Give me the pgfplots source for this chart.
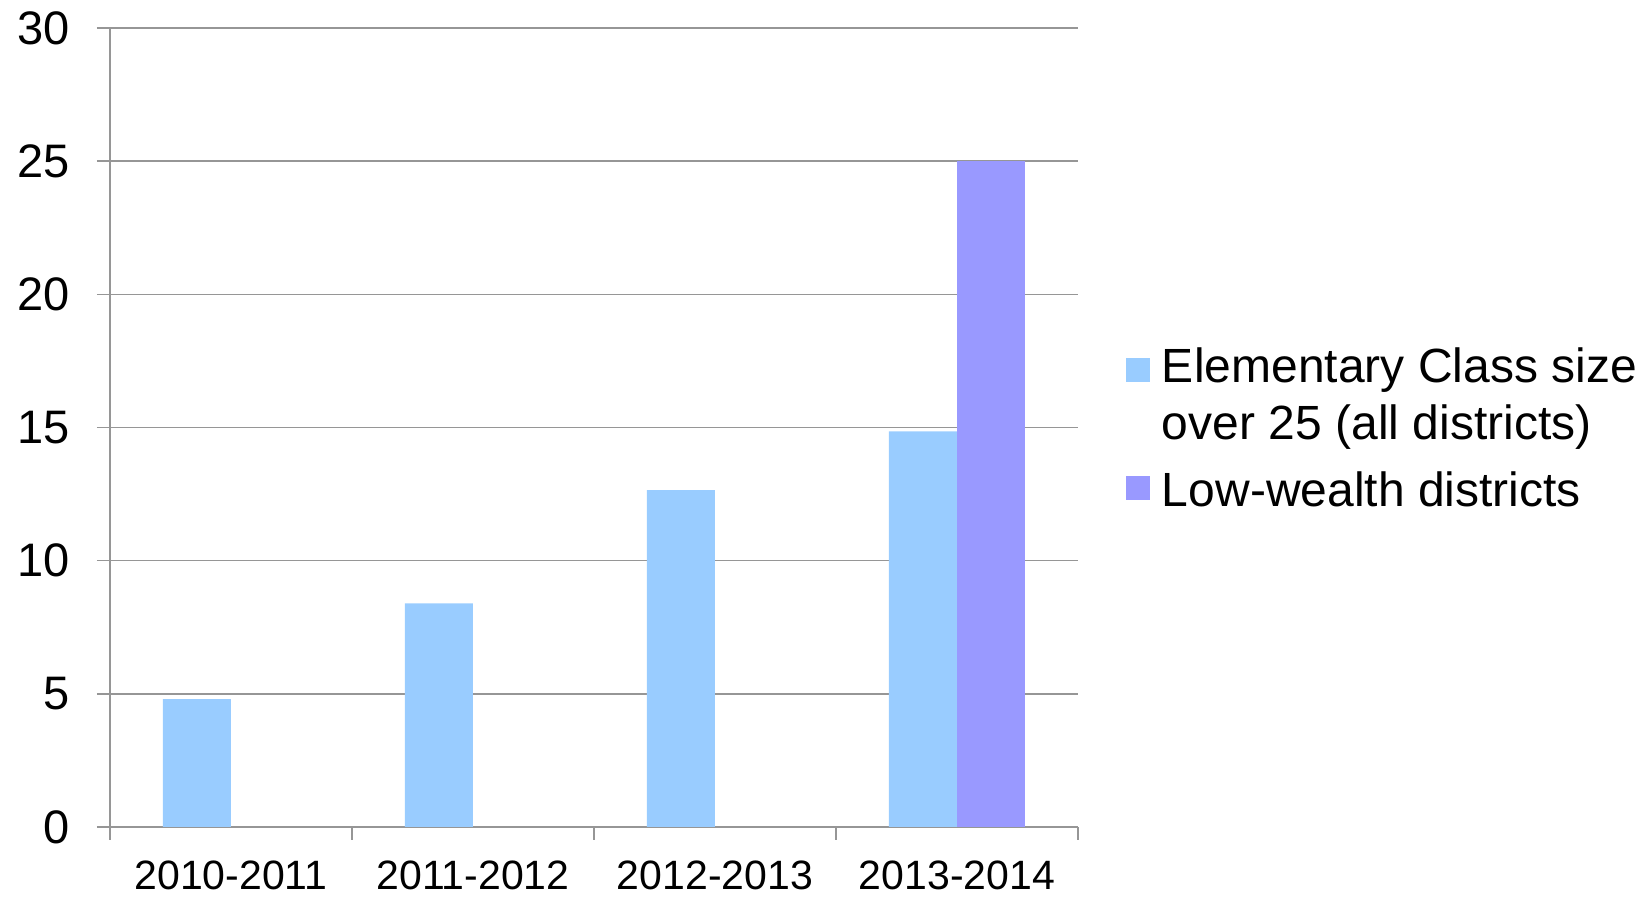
\documentclass[border=0pt]{standalone}
\usepackage{fontspec}
\setmainfont{Liberation Sans}
\usepackage{pgfplots}
\pgfplotsset{compat=1.18}
\definecolor{barblue}{RGB}{153,204,255}
\definecolor{barpurple}{RGB}{153,153,255}
\definecolor{axgray}{RGB}{150,150,150}
\pgfplotsset{
  sqlegA/.style={legend image code/.code={\fill[##1] (0pt,6.7pt) rectangle (12pt,18.7pt);}},
  sqlegB/.style={legend image code/.code={\fill[##1] (0pt,-4.4pt) rectangle (12pt,7.6pt);}}
}
\begin{document}
\begin{tikzpicture}
\path[use as bounding box] (-55pt,-35pt) rectangle (768pt,413.5pt);
\begin{axis}[
  at={(0,0)}, anchor=south west,
  width=484pt, height=399.5pt, scale only axis,
  xmin=-0.5, xmax=3.5, ymin=0, ymax=30,
  axis lines=left,
  axis line style={-, draw=axgray, line width=0.8pt},
  xtick={-0.5,0.5,1.5,2.5,3.5},
  xticklabels={,,,,},
  extra x ticks={0,1,2,3},
  extra x tick labels={2010-2011,2011-2012,2012-2013,2013-2014},
  extra x tick style={major tick length=0pt,
    xticklabel style={anchor=base, inner sep=0pt, yshift=-31.5pt, font=\fontsize{20.5}{24}\selectfont}},
  ytick={0,5,...,30},
  ymajorgrids,
  grid style={draw=axgray, line width=0.8pt},
  tick align=outside,
  major tick length=6.5pt,
  tick style={draw=axgray, line width=0.8pt},
  yticklabel style={anchor=east, inner sep=0pt, xshift=-13.5pt, font=\fontsize{23.5}{28}\selectfont},
  /pgf/number format/assume math mode=true,
  legend cell align=left,
  legend style={at={(1,0)}, anchor=north west, xshift=24pt, yshift=239.6pt,
    draw=none, fill=none, inner sep=0pt, outer sep=0pt,
    column sep=6pt, row sep=14.7pt,
    nodes={inner sep=0pt, align=left, font=\fontsize{24}{28.6}\selectfont}},
]
\addplot[ybar, bar width=0.282, bar shift=-0.141, fill=barblue, draw=none, sqlegA]
  coordinates {(0,4.8) (1,8.4) (2,12.65) (3,14.85)};
\addlegendentry{Elementary Class size\\over 25 (all districts)}
\addplot[ybar, bar width=0.282, bar shift=0.141, fill=barpurple, draw=none, sqlegB]
  coordinates {(3,25)};
\addlegendentry{Low-wealth districts}
\end{axis}
\end{tikzpicture}
\end{document}
